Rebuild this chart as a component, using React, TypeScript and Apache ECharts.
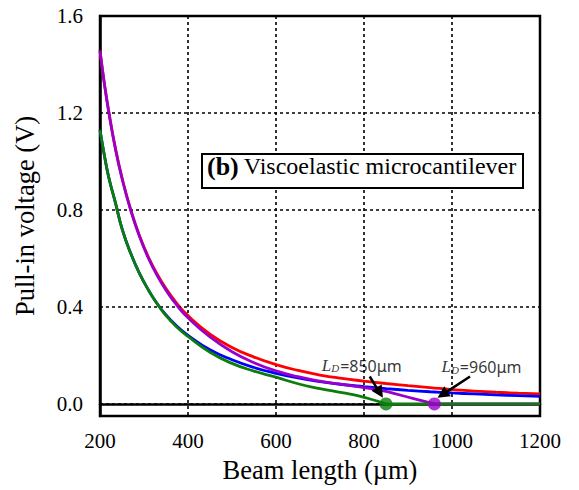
import React, { useEffect, useRef } from "react";
import * as echarts from "echarts";

// Beam length (µm) sampled along each pull-in curve
const beamLength = [200, 210, 220, 235, 250, 270, 290, 310, 330, 350, 375, 400, 450, 500, 550, 600, 650, 700, 750, 800, 850, 900, 950, 1000, 1050, 1100, 1150, 1200];
const redVoltage = [1.457, 1.32, 1.205, 1.055, 0.933, 0.8, 0.693, 0.606, 0.535, 0.476, 0.414, 0.364, 0.288, 0.233, 0.193, 0.162, 0.138, 0.119, 0.105, 0.094, 0.084, 0.075, 0.067, 0.059, 0.053, 0.048, 0.044, 0.041];
const blueVoltage = [1.13, 1.025, 0.934, 0.83, 0.723, 0.62, 0.537, 0.47, 0.413, 0.367, 0.32, 0.283, 0.223, 0.182, 0.15, 0.126, 0.107, 0.092, 0.08, 0.071, 0.063, 0.056, 0.05, 0.045, 0.041, 0.037, 0.034, 0.031];

const purpleLength = [200, 210, 220, 235, 250, 270, 290, 310, 330, 350, 375, 400, 450, 500, 550, 600, 650, 700, 750, 800, 850, 870, 915, 960];
const purpleVoltage = [1.457, 1.32, 1.203, 1.052, 0.93, 0.797, 0.689, 0.601, 0.529, 0.469, 0.406, 0.355, 0.276, 0.215, 0.17, 0.136, 0.112, 0.094, 0.08, 0.067, 0.052, 0.042, 0.021, 0];

const greenLength = [200, 210, 220, 235, 250, 270, 290, 310, 330, 350, 375, 400, 450, 500, 550, 600, 650, 700, 750, 790, 820, 850];
const greenVoltage = [1.13, 1.025, 0.934, 0.83, 0.723, 0.62, 0.537, 0.47, 0.413, 0.364, 0.316, 0.278, 0.213, 0.167, 0.135, 0.11, 0.083, 0.063, 0.046, 0.032, 0.017, 0];

// Pull-in lengths L_D (µm) where the voltage drops to zero
const pullInLength = [850, 960];
const xMax = 1200;

const xTicks = [200, 400, 600, 800, 1000, 1200];
const yGridValues = [0, 0.4, 0.8, 1.2];

const SERIF = "'Liberation Serif', 'Times New Roman', serif";
const SANS = "'Noto Sans', 'Open Sans', sans-serif";

const RED = "#ff0000";
const BLUE = "#0000ff";
const PURPLE = "#9900cc";
const GREEN = "#0a7d0a";

const zip = (xs: number[], ys: number[]) => xs.map((x, i) => [x, ys[i]]);

// Annotation arrows: tail near the label, tip just beside the pull-in point
const arrows = [
  { from: [813, 0.113], to: [843, 0.025] },
  { from: [1041, 0.113], to: [967, 0.025] },
];

export default function App() {
  const ref = useRef<HTMLDivElement>(null);

  useEffect(() => {
    document.body.style.margin = "0";
    const chart = echarts.init(ref.current!, null, { renderer: "svg" });

    const curve = (name: string, color: string, data: number[][], z: number) => ({
      name,
      type: "line",
      data,
      smooth: 0.5,
      showSymbol: false,
      symbol: "none",
      z,
      lineStyle: { color, width: 2.8 },
      silent: true,
    });

    const ldLabel = (i: number) => `{L|L}{D|D}{v|=${pullInLength[i]}μm}`;

    chart.setOption({
      animation: false,
      backgroundColor: "#ffffff",
      grid: {
        left: 100,
        top: 16,
        right: 39,
        bottom: 74,
        show: true,
        borderColor: "#000",
        borderWidth: 2.5,
        backgroundColor: "transparent",
      },
      xAxis: {
        type: "value",
        min: xTicks[0],
        max: xTicks[xTicks.length - 1],
        interval: 200,
        name: "Beam length (µm)",
        nameLocation: "middle",
        nameGap: 40,
        nameTextStyle: { fontFamily: SERIF, fontSize: 26.5, color: "#000" },
        axisLine: { show: true, lineStyle: { color: "#000", width: 2.5 } },
        axisTick: { show: false },
        axisLabel: {
          fontFamily: SERIF,
          fontSize: 21,
          color: "#000",
          margin: 14,
          formatter: (v: number) => String(v),
        },
        splitLine: { show: true, lineStyle: { color: "#000", width: 1.6, type: [3, 3] } },
      },
      yAxis: {
        type: "value",
        min: -0.05,
        max: 1.6,
        interval: 0.05,
        name: "Pull-in voltage (V)",
        nameLocation: "middle",
        nameGap: 62,
        nameTextStyle: { fontFamily: SERIF, fontSize: 26.5, color: "#000" },
        axisLine: { show: true, lineStyle: { color: "#000", width: 2.5 } },
        axisTick: { show: false },
        axisLabel: {
          fontFamily: SERIF,
          fontSize: 21,
          color: "#000",
          margin: 17,
          formatter: (v: number) => {
            const r = Math.round(v * 100);
            return r >= 0 && r % 40 === 0 ? (r / 100).toFixed(1) : "";
          },
        },
        splitLine: { show: false },
      },
      series: [
        {
          name: "grid",
          type: "line",
          data: [],
          z: 1,
          silent: true,
          markLine: {
            silent: true,
            symbol: "none",
            label: { show: false },
            lineStyle: { color: "#000", width: 1.6, type: [3, 3] },
            data: yGridValues.map((v) => ({ yAxis: v })),
          },
        },
        curve("red", RED, zip(beamLength, redVoltage), 3),
        curve("blue", BLUE, zip(beamLength, blueVoltage), 4),
        curve("purple", PURPLE, zip(purpleLength, purpleVoltage), 5),
        {
          ...curve("purple tail", PURPLE, [[pullInLength[1], 0], [xMax, 0]], 5),
          smooth: false,
        },
        curve("green", GREEN, zip(greenLength, greenVoltage), 6),
        {
          ...curve("green tail", GREEN, [[pullInLength[0], 0], [xMax, 0]], 6),
          smooth: false,
        },
        {
          name: "pull-in points",
          type: "scatter",
          z: 7,
          symbolSize: 13,
          silent: true,
          data: [
            { value: [pullInLength[0], 0], itemStyle: { color: GREEN } },
            { value: [pullInLength[1], 0], itemStyle: { color: PURPLE } },
          ],
        },
        {
          name: "annotations",
          type: "scatter",
          z: 8,
          symbolSize: 0,
          silent: true,
          data: [{ value: [704, 0.169] }, { value: [976, 0.163] }],
          label: {
            show: true,
            position: [0, 0],
            align: "left",
            verticalAlign: "middle",
            formatter: (p: any) => ldLabel(p.dataIndex),
            rich: {
              L: { fontFamily: SERIF, fontStyle: "italic", fontSize: 17, color: "#000", lineHeight: 22, verticalAlign: "bottom" },
              D: { fontFamily: SERIF, fontStyle: "italic", fontSize: 11, color: "#000", lineHeight: 14, verticalAlign: "bottom", padding: [0, 1, 0, 0] },
              v: { fontFamily: SANS, fontSize: 16, color: "#000", lineHeight: 22, verticalAlign: "bottom" },
            },
          },
        },
      ],
    });

    // Arrows are placed in data space and drawn as a shaft plus a filled head
    const arrowGraphics: any[] = [];
    arrows.forEach((a, i) => {
      const p0 = chart.convertToPixel({ gridIndex: 0 }, a.from) as number[];
      const p1 = chart.convertToPixel({ gridIndex: 0 }, a.to) as number[];
      const dx = p1[0] - p0[0];
      const dy = p1[1] - p0[1];
      const len = Math.hypot(dx, dy);
      const ux = dx / len;
      const uy = dy / len;
      const headLen = 12;
      const headHalf = 6;
      const bx = p1[0] - ux * headLen;
      const by = p1[1] - uy * headLen;
      arrowGraphics.push(
        {
          id: `arrow-shaft-${i}`,
          type: "line",
          z: 50,
          silent: true,
          shape: { x1: p0[0], y1: p0[1], x2: bx + ux * 2, y2: by + uy * 2 },
          style: { stroke: "#000", lineWidth: 2.5 },
        },
        {
          id: `arrow-head-${i}`,
          type: "polygon",
          z: 50,
          silent: true,
          shape: {
            points: [
              [p1[0], p1[1]],
              [bx - uy * headHalf, by + ux * headHalf],
              [bx + uy * headHalf, by - ux * headHalf],
            ],
          },
          style: { fill: "#000" },
        }
      );
    });

    chart.setOption({
      graphic: [
        {
          id: "caption-box",
          type: "rect",
          left: 201,
          top: 153,
          z: 100,
          shape: { x: 0, y: 0, width: 321, height: 34 },
          style: { fill: "#fff", stroke: "#000", lineWidth: 2 },
        },
        {
          id: "caption-text",
          type: "text",
          left: 207,
          top: 153,
          z: 101,
          style: {
            text: "{b|(b)}{t|Viscoelastic microcantilever}",
            rich: {
              b: { fontFamily: SERIF, fontWeight: "bold", fontSize: 26, fill: "#000", lineHeight: 34, padding: [0, 5, 0, 0] },
              t: { fontFamily: SERIF, fontSize: 24, fill: "#000", lineHeight: 34 },
            },
            fill: "#000",
            font: `24px ${SERIF}`,
          },
        },
        ...arrowGraphics,
      ],
    });

    return () => chart.dispose();
  }, []);

  return <div ref={ref} style={{ width: 579, height: 490 }} />;
}
